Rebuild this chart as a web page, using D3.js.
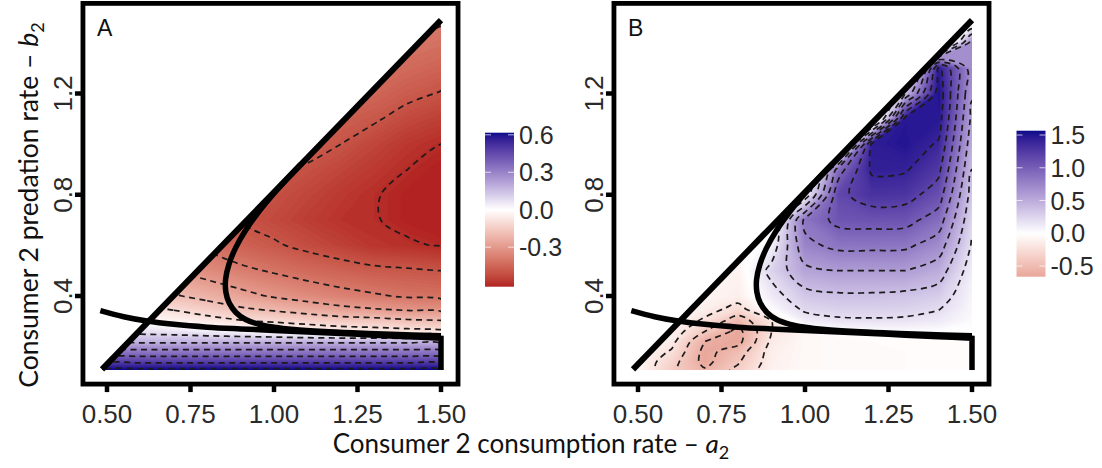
<!DOCTYPE html>
<html>
<head>
<meta charset="utf-8">
<script src="https://cdn.jsdelivr.net/npm/d3@7"></script>
<style>
  body { margin: 0; background: #fff; }
  svg { display: block; }
</style>
</head>
<body>
<svg id="chart" width="1102" height="468"></svg>
<script>
// grid columns (a2) and rows (b2) of the sampled surfaces
const aCols = [0.5, 0.6, 0.7, 0.8, 0.9, 1.0, 1.1, 1.2, 1.3, 1.4, 1.5];
const bRows = [0.10, 0.14, 0.18, 0.22, 0.26, 0.30, 0.35, 0.40, 0.50, 0.60, 0.70, 0.80, 0.90, 1.00, 1.10, 1.20, 1.30, 1.40, 1.50];

// panel A values, one row per b2 (low to high)
const gridA = [
  [0.66, 0.66, 0.66, 0.66, 0.66, 0.66, 0.66, 0.66, 0.66, 0.66, 0.66],
  [0.48, 0.48, 0.48, 0.48, 0.48, 0.48, 0.48, 0.48, 0.48, 0.48, 0.48],
  [0.33, 0.33, 0.33, 0.33, 0.33, 0.33, 0.33, 0.33, 0.33, 0.33, 0.33],
  [0.18, 0.18, 0.18, 0.18, 0.18, 0.18, 0.18, 0.18, 0.18, 0.18, 0.18],
  [0.08, 0.07, 0.06, 0.04, 0.02, 0.00, -0.03, -0.05, -0.06, -0.07, -0.08],
  [0.02, 0.00, -0.03, -0.06, -0.09, -0.11, -0.13, -0.15, -0.16, -0.18, -0.19],
  [-0.05, -0.08, -0.11, -0.15, -0.19, -0.22, -0.25, -0.28, -0.30, -0.32, -0.33],
  [-0.12, -0.15, -0.19, -0.23, -0.27, -0.31, -0.34, -0.37, -0.39, -0.41, -0.42],
  [-0.22, -0.26, -0.30, -0.34, -0.38, -0.41, -0.44, -0.46, -0.48, -0.49, -0.50],
  [-0.30, -0.34, -0.38, -0.42, -0.46, -0.49, -0.52, -0.55, -0.58, -0.59, -0.605],
  [-0.36, -0.40, -0.44, -0.47, -0.50, -0.53, -0.56, -0.585, -0.595, -0.62, -0.635],
  [-0.41, -0.43, -0.45, -0.47, -0.49, -0.51, -0.54, -0.57, -0.595, -0.62, -0.635],
  [-0.39, -0.41, -0.43, -0.45, -0.47, -0.49, -0.51, -0.54, -0.57, -0.60, -0.625],
  [-0.35, -0.37, -0.39, -0.41, -0.43, -0.45, -0.47, -0.50, -0.54, -0.575, -0.60],
  [-0.33, -0.35, -0.37, -0.39, -0.41, -0.43, -0.45, -0.47, -0.49, -0.53, -0.555],
  [-0.29, -0.31, -0.33, -0.35, -0.37, -0.39, -0.41, -0.43, -0.45, -0.48, -0.505],
  [-0.26, -0.28, -0.30, -0.32, -0.34, -0.36, -0.38, -0.40, -0.42, -0.44, -0.46],
  [-0.24, -0.26, -0.28, -0.30, -0.32, -0.34, -0.36, -0.38, -0.395, -0.405, -0.42],
  [-0.22, -0.24, -0.26, -0.28, -0.30, -0.32, -0.34, -0.35, -0.36, -0.37, -0.39]
];

// panel B values
const gridB = [
  [-0.06, -0.38, -0.56, -0.34, -0.10, -0.05, -0.04, -0.04, -0.03, -0.03, -0.03],
  [-0.05, -0.32, -0.66, -0.42, -0.11, -0.05, -0.04, -0.04, -0.03, -0.03, -0.03],
  [-0.05, -0.22, -0.66, -0.50, -0.12, -0.05, -0.04, -0.04, -0.03, -0.03, -0.03],
  [-0.05, -0.14, -0.60, -0.66, -0.16, -0.05, -0.04, -0.03, -0.03, -0.03, -0.03],
  [-0.05, -0.08, -0.40, -0.66, -0.20, -0.06, -0.01, 0.01, 0.02, 0.01, 0.00],
  [-0.05, -0.06, -0.24, -0.52, -0.20, 0.10, 0.16, 0.17, 0.16, 0.12, 0.03],
  [-0.05, -0.05, -0.12, -0.26, 0.02, 0.24, 0.28, 0.28, 0.27, 0.21, 0.05],
  [-0.06, -0.06, -0.07, -0.12, 0.12, 0.33, 0.37, 0.37, 0.35, 0.30, 0.06],
  [-0.07, -0.07, -0.07, -0.09, 0.26, 0.55, 0.60, 0.60, 0.60, 0.50, 0.10],
  [-0.07, -0.07, -0.07, -0.07, 0.08, 0.75, 0.85, 0.85, 0.84, 0.70, 0.18],
  [-0.07, -0.07, -0.07, -0.07, -0.10, 0.85, 1.06, 1.08, 1.07, 0.90, 0.25],
  [-0.07, -0.07, -0.07, -0.07, -0.10, 0.05, 1.15, 1.30, 1.28, 1.10, 0.32],
  [-0.10, -0.10, -0.10, -0.10, -0.20, -0.30, 0.90, 1.43, 1.42, 1.25, 0.40],
  [-0.30, -0.30, -0.30, -0.30, -0.40, -0.50, -0.50, 1.45, 1.50, 1.38, 0.48],
  [-0.50, -0.50, -0.50, -0.50, -0.50, -0.50, -0.50, -0.50, 1.48, 1.48, 0.55],
  [-0.50, -0.50, -0.50, -0.50, -0.50, -0.50, -0.50, -0.50, 0.40, 1.52, 0.62],
  [-0.50, -0.50, -0.50, -0.50, -0.50, -0.50, -0.50, -0.50, -0.50, 1.45, 0.68],
  [-0.50, -0.50, -0.50, -0.50, -0.50, -0.50, -0.50, -0.50, -0.50, -0.50, 0.72],
  [-0.50, -0.50, -0.50, -0.50, -0.50, -0.50, -0.50, -0.50, -0.50, -0.50, -0.20]
];

const levelsA = [-0.6, -0.5, -0.4, -0.3, -0.2, -0.1, 0, 0.1, 0.2, 0.3, 0.4, 0.5, 0.6];
const levelsB = [-0.6, -0.4, -0.2, 0.2, 0.4, 0.6, 0.8, 1.0, 1.2, 1.4];

// boundary curves (a2, b2), same in both panels
const diagLine = [[0.485, 0.11], [1.5, 1.49]];
const lowerCurve = [[0.48, 0.342], [0.55, 0.318], [0.62, 0.301], [0.70, 0.288], [0.80, 0.277],
  [0.90, 0.270], [1.00, 0.264], [1.10, 0.258], [1.20, 0.252], [1.30, 0.245], [1.40, 0.239], [1.50, 0.233]];
const lowerDrop = [1.5, 0.108];
const cCurve = [[1.08, 0.92], [1.03, 0.85], [0.99, 0.79], [0.95, 0.725], [0.915, 0.66], [0.885, 0.59],
  [0.865, 0.525], [0.855, 0.465], [0.856, 0.415], [0.866, 0.372], [0.886, 0.335], [0.915, 0.307],
  [0.955, 0.288], [1.0, 0.277], [1.06, 0.268], [1.15, 0.26], [1.25, 0.254], [1.35, 0.249], [1.5, 0.243]];

const xTicks = [0.5, 0.75, 1.0, 1.25, 1.5];
const yTicks = [0.4, 0.8, 1.2];
const barTicksA = [-0.3, 0.0, 0.3, 0.6];
const barTicksB = [-0.5, 0.0, 0.5, 1.0, 1.5];

const svg = d3.select("#chart");
const numFont = "'Liberation Sans', Arial, sans-serif";
const titleFont = "Lato, 'Open Sans', sans-serif";
const fmt1 = v => d3.format(".1f")(v).replace("\u2212", "-");

const y = d3.scaleLinear().domain([0.4, 1.2]).range([296, 93.5]);

function colorScale(lim) {
  return d3.scaleDiverging(d3.piecewise(d3.interpolateLab, ["#b22222", "#ffffff", "#0a0a8c"]))
    .domain([-lim, 0, lim]).clamp(true);
}

function drawPanel(grid, levels, lim, step, dx, label, id) {
  const x = d3.scaleLinear().domain([0.5, 1.5]).range([107 + dx, 441 + dx]);
  const color = colorScale(lim);
  const g = svg.append("g");

  const ci = d3.scaleLinear().domain(aCols.map((d, i) => i + 0.5)).range(aCols);
  const ri = d3.scaleLinear().domain(bRows.map((d, i) => i + 0.5)).range(bRows);
  const proj = d3.geoTransform({ point(px, py) { this.stream.point(x(ci(px)), y(ri(py))); } });
  const path = d3.geoPath(proj);
  const values = grid.flat();
  const gen = d3.contours().size([aCols.length, bRows.length]);

  // triangle where the surface is defined
  const tri = [[diagLine[0][0], 0.108], [1.5, 0.108], [1.5, diagLine[1][1]], diagLine[0]];
  g.append("clipPath").attr("id", "clip" + id)
    .append("polygon").attr("points", tri.map(d => [x(d[0]), y(d[1])].join(",")).join(" "));

  const heat = g.append("g").attr("clip-path", `url(#clip${id})`);
  const lo = d3.min(values) - step, hi = d3.max(values);
  d3.range(lo, hi, step).forEach(t => {
    heat.append("path").attr("d", path(gen.contour(values, t)))
      .attr("fill", color(t + step / 2)).attr("stroke", "none");
  });

  // dashed contour lines
  const line = d3.line().curve(d3.curveCatmullRomClosed.alpha(0.5));
  levels.forEach(lv => {
    const geo = gen.contour(values, lv);
    geo.coordinates.forEach(poly => poly.forEach(ring => {
      const pts = ring.slice(0, -1).map(p => [x(ci(p[0])), y(ri(p[1]))]);
      heat.append("path").attr("d", line(pts))
        .attr("fill", "none").attr("stroke", "#1b1b1b").attr("stroke-width", 1.7)
        .attr("stroke-dasharray", "6,4.5");
    }));
  });

  // thick boundaries
  const curve = d3.line().x(d => x(d[0])).y(d => y(d[1])).curve(d3.curveCatmullRom.alpha(0.5));
  g.append("path").attr("d", d3.line().x(d => x(d[0])).y(d => y(d[1]))(diagLine))
    .attr("stroke", "#000").attr("stroke-width", 6).attr("fill", "none");
  g.append("path").attr("d", curve(lowerCurve) + `L${x(lowerDrop[0])},${y(lowerDrop[1])}`)
    .attr("stroke", "#000").attr("stroke-width", 5.5).attr("fill", "none")
    .attr("stroke-linejoin", "miter");
  g.append("path").attr("d", curve(cCurve))
    .attr("stroke", "#000").attr("stroke-width", 5.5).attr("fill", "none");

  // frame
  const fx0 = x(0.428), fx1 = x(1.551), fy0 = y(1.556), fy1 = y(0.052);
  g.append("rect").attr("x", fx0).attr("y", fy0).attr("width", fx1 - fx0).attr("height", fy1 - fy0)
    .attr("fill", "none").attr("stroke", "#000").attr("stroke-width", 4.8);

  // ticks and labels
  xTicks.forEach(t => {
    g.append("line").attr("x1", x(t)).attr("x2", x(t)).attr("y1", fy1).attr("y2", fy1 + 8)
      .attr("stroke", "#000").attr("stroke-width", 4.5);
    g.append("text").attr("x", x(t)).attr("y", 423).attr("text-anchor", "middle")
      .attr("font-family", numFont).attr("font-size", 26).attr("fill", "#2a2a2a")
      .text(d3.format(".2f")(t));
  });
  yTicks.forEach(t => {
    g.append("line").attr("x1", fx0 - 8).attr("x2", fx0).attr("y1", y(t)).attr("y2", y(t))
      .attr("stroke", "#000").attr("stroke-width", 4.5);
    g.append("text").attr("transform", `translate(${fx0 - 11},${y(t)}) rotate(-90)`)
      .attr("text-anchor", "middle").attr("font-family", numFont).attr("font-size", 26)
      .attr("fill", "#2a2a2a").text(fmt1(t));
  });
  g.append("text").attr("x", 97 + dx).attr("y", 36).attr("font-family", numFont)
    .attr("font-size", 23).attr("fill", "#111").text(label);
}

function drawBar(lim, vMin, vMax, x0, y0, y1, ticks, id) {
  const color = colorScale(lim);
  const yb = d3.scaleLinear().domain([vMin, vMax]).range([y1, y0]);
  const grad = svg.append("defs").append("linearGradient").attr("id", "grad" + id)
    .attr("x1", 0).attr("y1", 1).attr("x2", 0).attr("y2", 0);
  d3.range(0, 1.0001, 0.02).forEach(s => {
    grad.append("stop").attr("offset", s).attr("stop-color", color(vMin + s * (vMax - vMin)));
  });
  const w = 29;
  svg.append("rect").attr("x", x0).attr("y", y0).attr("width", w).attr("height", y1 - y0)
    .attr("fill", `url(#grad${id})`);
  ticks.forEach(t => {
    [[x0, x0 + 6], [x0 + w - 6, x0 + w]].forEach(([a, b]) => {
      svg.append("line").attr("x1", a).attr("x2", b).attr("y1", yb(t)).attr("y2", yb(t))
        .attr("stroke", "#fff").attr("stroke-opacity", 0.7).attr("stroke-width", 1);
    });
    svg.append("text").attr("x", x0 + w + 5).attr("y", yb(t) + 9)
      .attr("font-family", numFont).attr("font-size", 25).attr("fill", "#2a2a2a")
      .text(fmt1(t));
  });
}

drawPanel(gridA, levelsA, 0.617, 0.01, 0, "A", "A");
drawPanel(gridB, levelsB, 1.566, 0.015, 531, "B", "B");
drawBar(0.617, -0.617, 0.617, 485, 132.7, 286.7, barTicksA, "A");
drawBar(1.566, -0.663, 1.566, 1016.5, 130.7, 276.7, barTicksB, "B");

// axis titles
const xt = svg.append("text").attr("x", 531).attr("y", 453).attr("text-anchor", "middle")
  .attr("font-family", titleFont).attr("font-size", 26).attr("fill", "#111");
xt.append("tspan").text("Consumer 2 consumption rate \u2013 ");
xt.append("tspan").attr("font-style", "italic").text("a");
xt.append("tspan").attr("font-size", 18).attr("dy", 6).text("2");

const yt = svg.append("text").attr("transform", "translate(38,205) rotate(-90)")
  .attr("text-anchor", "middle").attr("font-family", titleFont).attr("font-size", 26.5).attr("fill", "#111");
yt.append("tspan").text("Consumer 2 predation rate \u2013 ");
yt.append("tspan").attr("font-style", "italic").text("b");
yt.append("tspan").attr("font-size", 18).attr("dy", 6).text("2");
</script>
</body>
</html>
